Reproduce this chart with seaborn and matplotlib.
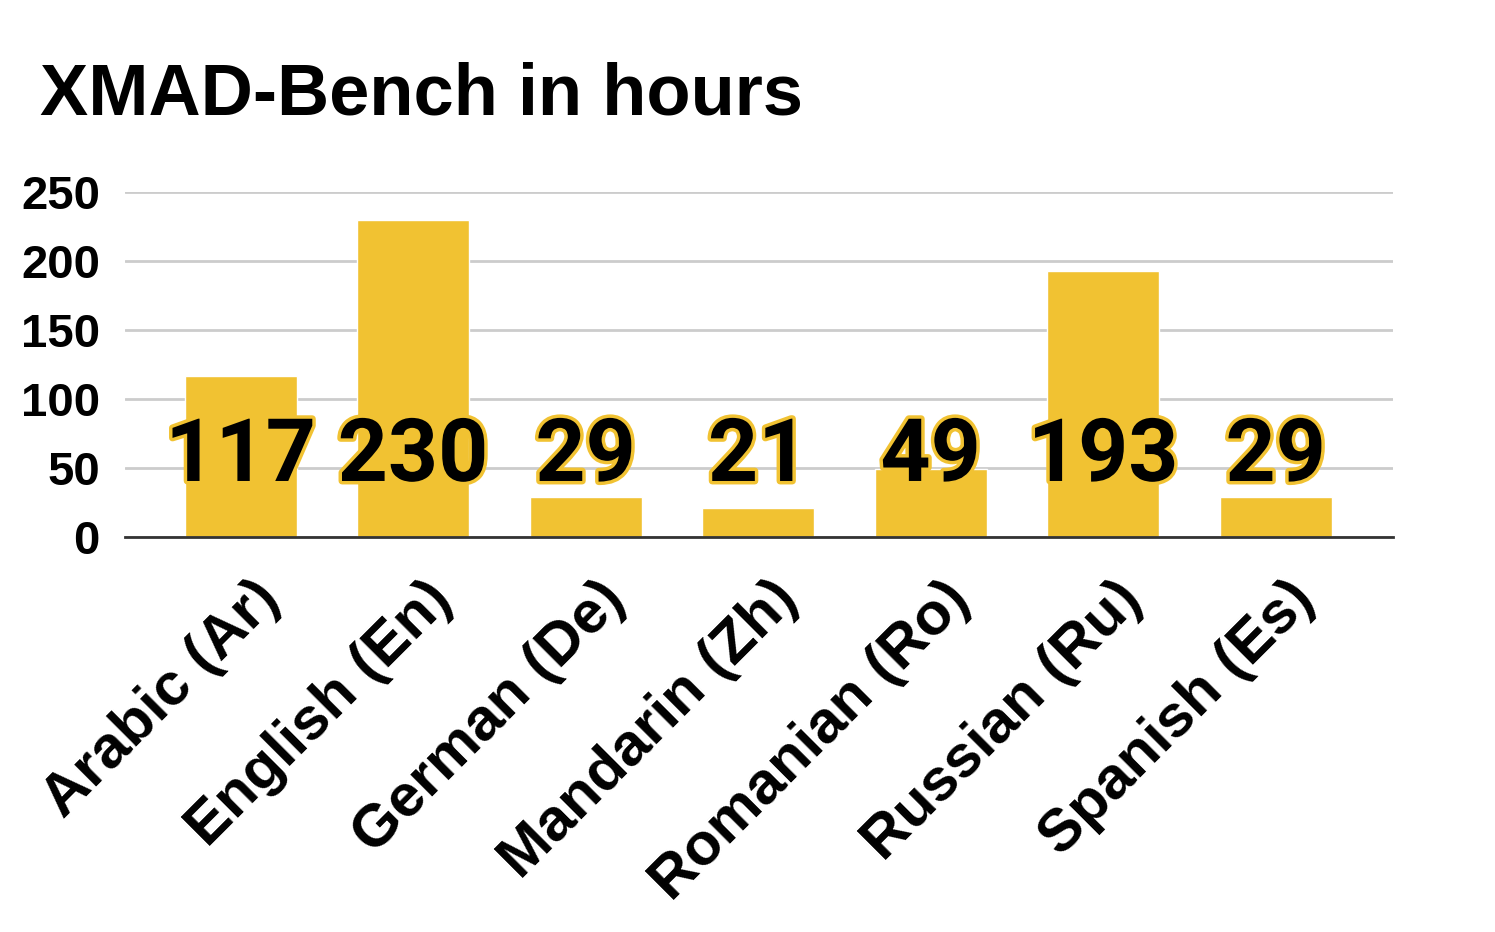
import matplotlib
matplotlib.use("Agg")
import matplotlib.pyplot as plt
import matplotlib.patheffects as pe
from matplotlib.transforms import ScaledTranslation
import seaborn as sns
import pandas as pd

languages = ["Arabic (Ar)", "English (En)", "German (De)", "Mandarin (Zh)",
             "Romanian (Ro)", "Russian (Ru)", "Spanish (Es)"]
hours = [117, 230, 29, 21, 49, 193, 29]
yticks = [0, 50, 100, 150, 200, 250]

bar_color = "#F1C232"
label_y = 58

sns.set_theme(style="white")
plt.rcParams["font.family"] = ["Liberation Sans", "DejaVu Sans"]
plt.rcParams["text.color"] = "black"
plt.rcParams["xtick.color"] = "black"
plt.rcParams["ytick.color"] = "black"

df = pd.DataFrame({"language": languages, "hours": hours})

fig = plt.figure(figsize=(14.95, 9.32), dpi=100)
ax = fig.add_axes([0.0836, 0.4238, 0.8482, 0.3702])

sns.barplot(data=df, x="language", y="hours", color=bar_color, width=0.65,
            saturation=1, ax=ax, zorder=3)

ax.set_ylim(0, 250)
ax.set_xlim(-0.67, 6.68)
ax.set_yticks(yticks)
ax.yaxis.grid(True, color="#cccccc", linewidth=2, zorder=0)
ax.set_axisbelow(True)
for s in ["top", "right", "left"]:
    ax.spines[s].set_visible(False)
ax.spines["bottom"].set_color("#333333")
ax.spines["bottom"].set_linewidth(2)
ax.spines["bottom"].set_zorder(4)
ax.tick_params(axis="both", length=0, labelcolor="black")
ax.tick_params(axis="y", pad=18, labelsize=34)
ax.tick_params(axis="x", pad=18, labelsize=43)
for lab in ax.get_yticklabels():
    lab.set_fontweight("bold")
shift = ScaledTranslation(0.11, -0.09, fig.dpi_scale_trans)
for lab in ax.get_xticklabels():
    lab.set_fontweight("bold")
    lab.set_rotation(45)
    lab.set_ha("right")
    lab.set_va("top")
    lab.set_rotation_mode("anchor")
    lab.set_transform(lab.get_transform() + shift)
ax.set_xlabel("")
ax.set_ylabel("")

for i, v in enumerate(hours):
    ax.text(i, label_y, str(v), ha="center", va="center", fontsize=63,
            fontweight="bold", family=["Roboto", "DejaVu Sans"], color="black", zorder=5,
            path_effects=[pe.withStroke(linewidth=5, foreground=bar_color)])

fig.text(0.027, 0.897, "XMAD-Bench in hours", fontsize=52, fontweight="bold",
         ha="left", va="center", color="black")

fig.savefig("out.png", dpi=100, facecolor="white")
